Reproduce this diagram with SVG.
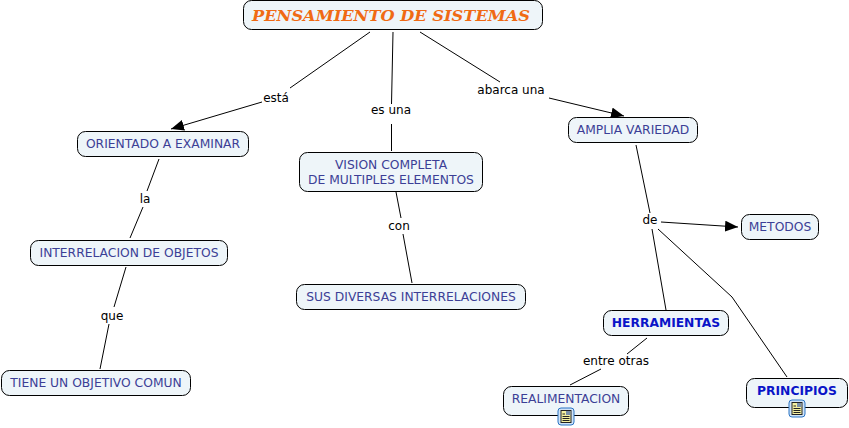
<svg xmlns="http://www.w3.org/2000/svg" width="849" height="428" viewBox="0 0 849 428">
<style>
.n{fill:#eef5f9;stroke:#000;stroke-width:1}
.t{font-family:"DejaVu Sans",Verdana,sans-serif;font-size:12.3px;fill:#3c3f96;text-anchor:middle}
.b{font-weight:bold;fill:#0a14c8}
.l{font-family:"DejaVu Sans",Verdana,sans-serif;font-size:12px;fill:#000;text-anchor:middle}
.c{stroke:#000;stroke-width:1;fill:none}
</style>
<defs>
<marker id="a" markerUnits="userSpaceOnUse" markerWidth="14" markerHeight="12" refX="13" refY="5.5" orient="auto"><path d="M0 0L13 5.5L0 11Z" fill="#000"/></marker>
<g id="ic"><rect x="0" y="0" width="16" height="17" rx="3" fill="#cfe3f7" stroke="#2b74c4"/><rect x="3" y="2.500" width="10" height="12" fill="#f5f0a0" stroke="#222" stroke-width="1"/><rect x="8" y="3" width="4.500" height="4" fill="#7a8fa8"/><path d="M4.500 6h2.500M4.500 8.500h7M4.500 10.500h7M4.500 12.500h7" stroke="#222"/></g>
</defs>
<g id="connectors">
<path class="c" d="M370 32L290 88"/><path class="c" d="M262 102L171 129" marker-end="url(#a)"/>
<path class="c" d="M393 32L391.500 104"/><path class="c" d="M391.500 124V151"/>
<path class="c" d="M420 32L500 82"/><path class="c" d="M549 98L624 116" marker-end="url(#a)"/>
<path class="c" d="M159 159L147 191"/><path class="c" d="M143 207L130 238"/>
<path class="c" d="M126 267L114 307"/><path class="c" d="M109 324L100 369"/>
<path class="c" d="M396 192L401 218"/><path class="c" d="M403 234L412 283"/>
<path class="c" d="M636 145L650 213"/><path class="c" d="M652 229L666 310"/>
<path class="c" d="M661 222L738 227" marker-end="url(#a)"/>
<path class="c" d="M658 229L732 297L787 377"/>
<path class="c" d="M647 338L627 354"/><path class="c" d="M601 369L570 385"/>
</g>
<g id="n1"><rect class="n" x="243.500" y="0.500" width="299" height="29" rx="8"/><text x="391" y="21" text-anchor="middle" font-family="'DejaVu Serif',Georgia,serif" font-size="15" font-weight="bold" font-style="italic" fill="#f06a14" textLength="278" lengthAdjust="spacingAndGlyphs">PENSAMIENTO DE SISTEMAS</text></g>
<g id="n2"><rect class="n" x="77.500" y="131.500" width="171" height="25" rx="8"/><text class="t" x="163" y="148">ORIENTADO A EXAMINAR</text></g>
<g id="n3"><rect class="n" x="299.500" y="152.500" width="183" height="39" rx="8"/><text class="t" x="391" y="169">VISION COMPLETA</text><text class="t" x="391" y="184">DE MULTIPLES ELEMENTOS</text></g>
<g id="n4"><rect class="n" x="568.500" y="117.500" width="129" height="25" rx="8"/><text class="t" x="633" y="134">AMPLIA VARIEDAD</text></g>
<g id="n5"><rect class="n" x="30.500" y="240.500" width="197" height="25" rx="8"/><text class="t" x="129" y="257">INTERRELACION DE OBJETOS</text></g>
<g id="n6"><rect class="n" x="296.500" y="284.500" width="229" height="25" rx="8"/><text class="t" x="411" y="301">SUS DIVERSAS INTERRELACIONES</text></g>
<g id="n7"><rect class="n" x="741.500" y="214.500" width="77" height="25" rx="8"/><text class="t" x="780" y="231">METODOS</text></g>
<g id="n8"><rect class="n" x="603.500" y="310.500" width="125" height="25" rx="8"/><text class="t b" x="666" y="327">HERRAMIENTAS</text></g>
<g id="n9"><rect class="n" x="1.500" y="370.500" width="189" height="25" rx="8"/><text class="t" x="96" y="387">TIENE UN OBJETIVO COMUN</text></g>
<g id="n10"><rect class="n" x="503.500" y="386.500" width="125" height="29" rx="8"/><text class="t" x="566" y="403">REALIMENTACION</text><use href="#ic" x="558" y="408"/></g>
<g id="n11"><rect class="n" x="746.500" y="378.500" width="101" height="29" rx="8"/><text class="t b" x="797" y="395">PRINCIPIOS</text><use href="#ic" x="789" y="400"/></g>
<g id="labels">
<text class="l" x="276" y="102">está</text>
<text class="l" x="391" y="114">es una</text>
<text class="l" x="511" y="94">abarca una</text>
<text class="l" x="145" y="203">la</text>
<text class="l" x="112" y="320">que</text>
<text class="l" x="399" y="230">con</text>
<text class="l" x="650" y="224">de</text>
<text class="l" x="616" y="365">entre otras</text>
</g>
</svg>
